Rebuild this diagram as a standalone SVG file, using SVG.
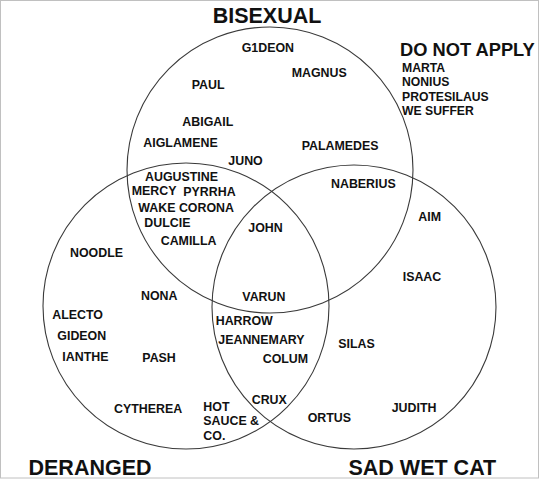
<svg xmlns="http://www.w3.org/2000/svg" width="540" height="480" viewBox="0 0 540 480">
<style>
.c{fill:none;stroke:#3a3a3a;stroke-width:1.1}
.t{font-family:"Liberation Sans",Arial,sans-serif;font-weight:bold;fill:#111}
.n{font-size:12.4px}
.l{font-size:12.2px}
.h{font-size:21.5px}
</style>
<rect x="0.5" y="0.5" width="538" height="477.5" fill="#fff" stroke="#c0c0c0" stroke-width="1"/>
<g id="set-bisexual">
<circle class="c" cx="270" cy="170" r="143"/>
<text class="t h" x="267" y="23" text-anchor="middle">BISEXUAL</text>
</g>
<g id="set-deranged">
<circle class="c" cx="186" cy="306" r="143"/>
<text class="t h" x="28.5" y="474.5">DERANGED</text>
</g>
<g id="set-sadwetcat">
<circle class="c" cx="354" cy="307" r="142"/>
<text class="t h" x="348.5" y="475">SAD WET CAT</text>
</g>
<g id="do-not-apply">
<text class="t" x="400" y="56" font-size="18.3px">DO NOT APPLY</text>
<text class="t l" x="402" y="71.7">MARTA</text>
<text class="t l" x="402" y="85.9">NONIUS</text>
<text class="t l" x="402" y="101">PROTESILAUS</text>
<text class="t l" x="402" y="115.2">WE SUFFER</text>
</g>
<g id="names">
<text class="t n" x="241.7" y="52.3">G1DEON</text>
<text class="t n" x="291.7" y="77.3">MAGNUS</text>
<text class="t n" x="191.7" y="89.3">PAUL</text>
<text class="t n" x="182.3" y="125.7">ABIGAIL</text>
<text class="t n" x="143.3" y="146.7">AIGLAMENE</text>
<text class="t n" x="301.7" y="150">PALAMEDES</text>
<text class="t n" x="228.3" y="165">JUNO</text>
<text class="t n" x="145" y="180.7">AUGUSTINE</text>
<text class="t n" x="131.7" y="195">MERCY</text>
<text class="t n" x="183.3" y="196">PYRRHA</text>
<text class="t n" x="138.3" y="211.7">WAKE CORONA</text>
<text class="t n" x="144.3" y="226.7">DULCIE</text>
<text class="t n" x="160.7" y="245">CAMILLA</text>
<text class="t n" x="70" y="256.7">NOODLE</text>
<text class="t n" x="141" y="300">NONA</text>
<text class="t n" x="248.3" y="231.7">JOHN</text>
<text class="t n" x="242.3" y="300.7">VARUN</text>
<text class="t n" x="331" y="188.3">NABERIUS</text>
<text class="t n" x="418.3" y="220.7">AIM</text>
<text class="t n" x="402.7" y="280.7">ISAAC</text>
<text class="t n" x="52.3" y="319.3">ALECTO</text>
<text class="t n" x="57.3" y="340">GIDEON</text>
<text class="t n" x="62.3" y="361">IANTHE</text>
<text class="t n" x="142.3" y="361.7">PASH</text>
<text class="t n" x="114" y="413.3">CYTHEREA</text>
<text class="t n" x="203.3" y="410.7">HOT</text>
<text class="t n" x="203.3" y="425">SAUCE &amp;</text>
<text class="t n" x="203.3" y="440">CO.</text>
<text class="t n" x="251.7" y="404">CRUX</text>
<text class="t n" x="215.7" y="325">HARROW</text>
<text class="t n" x="218.3" y="344">JEANNEMARY</text>
<text class="t n" x="262.7" y="363.3">COLUM</text>
<text class="t n" x="338.3" y="347.7">SILAS</text>
<text class="t n" x="307.7" y="421.7">ORTUS</text>
<text class="t n" x="391.7" y="412.3">JUDITH</text>
</g>
<g id="connectors"/>
</svg>
